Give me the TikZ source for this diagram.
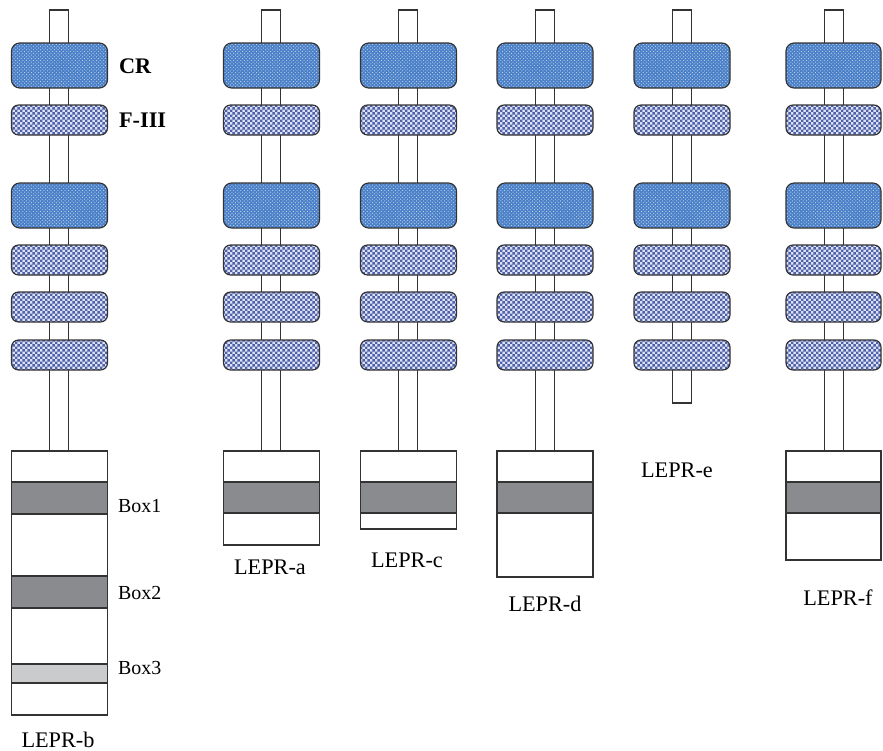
\documentclass[tikz,border=0pt]{standalone}
\usepackage{fontspec}
\setmainfont{Liberation Serif}
\usetikzlibrary{patterns}
\definecolor{crblue}{HTML}{4A80C8}
\definecolor{fblue}{HTML}{4E60A8}
\definecolor{fpale}{HTML}{DCE2F3}
\definecolor{bandgray}{HTML}{8A8B8F}
\definecolor{bandlight}{HTML}{C9CBCD}
\pgfdeclarepatternformonly{finecheck}{\pgfpointorigin}{\pgfqpoint{4.6pt}{4.6pt}}{\pgfqpoint{4.6pt}{4.6pt}}{%
  \pgfpathrectangle{\pgfpointorigin}{\pgfqpoint{2.3pt}{2.3pt}}%
  \pgfpathrectangle{\pgfqpoint{2.3pt}{2.3pt}}{\pgfqpoint{2.3pt}{2.3pt}}%
  \pgfusepath{fill}}
\begin{document}
\begin{tikzpicture}[x=.03cm,y=-.03cm,font=\fontsize{19}{21}\selectfont,
  stem/.style={fill=white,draw=black!80,line width=1pt},
  crdom/.style={preaction={fill=crblue,draw=none},pattern=crosshatch dots,pattern color=white!70!crblue,draw=black!80,line width=1pt,rounded corners=7pt},
  fdom/.style={preaction={fill=fpale,draw=none},pattern=finecheck,pattern color=fblue,draw=black!80,line width=1pt,rounded corners=6pt},
  cyto/.style={fill=white,draw=black!80,line width=1pt},
  boxdark/.style={fill=bandgray,draw=black!80,line width=1pt},
  boxlight/.style={fill=bandlight,draw=black!80,line width=1pt}]
\useasboundingbox (0,0) rectangle (883,751);
% LEPR-b
\path[stem] (49.5,10) rectangle (68.5,451);
\path[crdom] (11.5,43) rectangle (107.5,88);
\path[fdom] (11.5,105) rectangle (107.5,135);
\path[crdom] (11.5,183) rectangle (107.5,228);
\path[fdom] (11.5,245) rectangle (107.5,275);
\path[fdom] (11.5,292) rectangle (107.5,322);
\path[fdom] (11.5,340) rectangle (107.5,370);
\path[cyto] (11.5,451) rectangle (107.5,715);
\path[boxdark] (11.5,482) rectangle (107.5,514);
\path[boxdark] (11.5,576) rectangle (107.5,608);
\path[boxlight] (11.5,664) rectangle (107.5,683);
\node[anchor=west,font=\fontsize{19}{21}\selectfont\bfseries] (cr) at (115,66) {CR};
\node[anchor=west,font=\fontsize{19}{21}\selectfont\bfseries] (fiii) at (115,120) {F-III};
\node[anchor=west,font=\fontsize{17}{19}\selectfont] (box1) at (114,506) {Box1};
\node[anchor=west,font=\fontsize{17}{19}\selectfont] (box2) at (114,593) {Box2};
\node[anchor=west,font=\fontsize{17}{19}\selectfont] (box3) at (114,668) {Box3};
\node (lb) at (58,740) {LEPR-b};
% LEPR-a
\path[stem] (261.5,10) rectangle (280.5,451);
\path[crdom] (223.5,43) rectangle (319.5,88);
\path[fdom] (223.5,105) rectangle (319.5,135);
\path[crdom] (223.5,183) rectangle (319.5,228);
\path[fdom] (223.5,245) rectangle (319.5,275);
\path[fdom] (223.5,292) rectangle (319.5,322);
\path[fdom] (223.5,340) rectangle (319.5,370);
\path[cyto] (223.5,451) rectangle (319.5,545);
\path[boxdark] (223.5,482) rectangle (319.5,513);
\node (la) at (270,567) {LEPR-a};
% LEPR-c
\path[stem] (398.5,10) rectangle (417.5,451);
\path[crdom] (360.5,43) rectangle (456.5,88);
\path[fdom] (360.5,105) rectangle (456.5,135);
\path[crdom] (360.5,183) rectangle (456.5,228);
\path[fdom] (360.5,245) rectangle (456.5,275);
\path[fdom] (360.5,292) rectangle (456.5,322);
\path[fdom] (360.5,340) rectangle (456.5,370);
\path[cyto] (360.5,451) rectangle (456.5,529);
\path[boxdark] (360.5,482) rectangle (456.5,513);
\node (lc) at (407,560) {LEPR-c};
% LEPR-d
\path[stem] (535.5,10) rectangle (554.5,451);
\path[crdom] (497,43) rectangle (593,88);
\path[fdom] (497,105) rectangle (593,135);
\path[crdom] (497,183) rectangle (593,228);
\path[fdom] (497,245) rectangle (593,275);
\path[fdom] (497,292) rectangle (593,322);
\path[fdom] (497,340) rectangle (593,370);
\path[cyto] (497,451) rectangle (593,577);
\path[boxdark] (497,482) rectangle (593,513);
\node (ld) at (545,604) {LEPR-d};
% LEPR-e
\path[stem] (672.5,10) rectangle (691.5,403);
\path[crdom] (634,43) rectangle (730,88);
\path[fdom] (634,105) rectangle (730,135);
\path[crdom] (634,183) rectangle (730,228);
\path[fdom] (634,245) rectangle (730,275);
\path[fdom] (634,292) rectangle (730,322);
\path[fdom] (634,340) rectangle (730,370);
\node (le) at (677,470) {LEPR-e};
% LEPR-f
\path[stem] (824.5,10) rectangle (843.5,451);
\path[crdom] (786,43) rectangle (881,88);
\path[fdom] (786,105) rectangle (881,135);
\path[crdom] (786,183) rectangle (881,228);
\path[fdom] (786,245) rectangle (881,275);
\path[fdom] (786,292) rectangle (881,322);
\path[fdom] (786,340) rectangle (881,370);
\path[cyto] (786,451) rectangle (881,560);
\path[boxdark] (786,482) rectangle (881,513);
\node (lf) at (838,598) {LEPR-f};
\end{tikzpicture}
\end{document}
